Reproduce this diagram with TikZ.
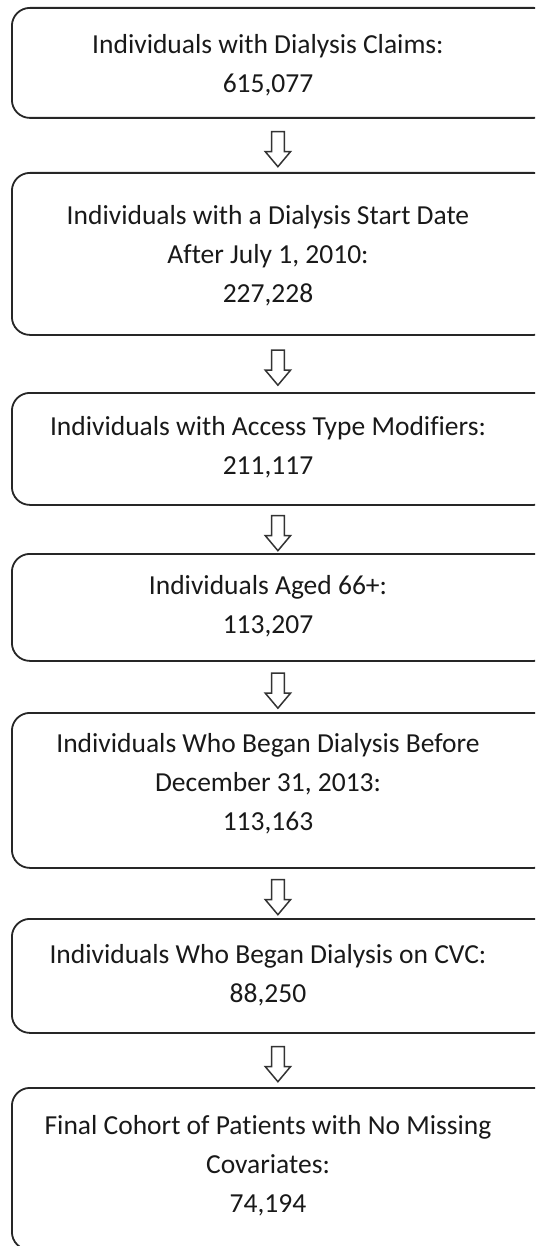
\documentclass[tikz,border=0pt]{standalone}
\usepackage{fontspec}
\setmainfont{Carlito}[Ligatures=NoCommon]
\usepackage{tikz}
\usetikzlibrary{calc,shapes.arrows,positioning}

\tikzset{
  stage/.style={draw=black!85, line width=1.8pt, rounded corners=18pt, anchor=north west, inner sep=0pt},
  txt/.style={align=center, text=black!90, font=\fontsize{27.5}{39}\selectfont, inner sep=0pt},
  hollowarrow/.style={single arrow, draw=black!80, fill=white, line width=1.5pt, rotate=-90,
    minimum height=35pt, inner sep=5.6pt,
    single arrow head extend=6.2pt, single arrow tip angle=80}
}

\begin{document}
\begin{tikzpicture}[x=1pt,y=-1pt]
\useasboundingbox (0,0) rectangle (535,1246);
\clip (0,0) rectangle (535,1246);
% boxes
\node[stage, minimum width=540, minimum height=110] (b1) at (11,7) {};
\node[stage, minimum width=540, minimum height=162] (b2) at (11,172) {};
\node[stage, minimum width=540, minimum height=112] (b3) at (11,392) {};
\node[stage, minimum width=540, minimum height=107] (b4) at (11,553) {};
\node[stage, minimum width=540, minimum height=155] (b5) at (11,712) {};
\node[stage, minimum width=540, minimum height=114] (b6) at (11,918) {};
\node[stage, minimum width=540, minimum height=162] (b7) at (11,1087) {};
% texts
\node[txt] (t1) at (268,65) {Individuals with Dialysis Claims:\\615,077};
\node[txt] (t2) at (268,256) {Individuals with a Dialysis Start Date\\After July 1, 2010:\\227,228};
\node[txt] (t3) at (268,447) {Individuals with Access Type Modifiers:\\211,117};
\node[txt] (t4) at (268,606) {Individuals Aged 66+:\\113,207};
\node[txt] (t5) at (268,784) {Individuals Who Began Dialysis Before\\December 31, 2013:\\113,163};
\node[txt] (t6) at (268,975) {Individuals Who Began Dialysis on CVC:\\88,250};
\node[txt] (t7) at (268,1166) {Final Cohort of Patients with No Missing\\Covariates:\\74,194};
% arrows
\node[hollowarrow] (a1) at ($(b1.south)!0.5!(b2.north)+(-4,0)$) {};
\node[hollowarrow] (a2) at ($(b2.south)!0.5!(b3.north)+(-4,0)$) {};
\node[hollowarrow] (a3) at ($(b3.south)!0.5!(b4.north)+(-4,0)$) {};
\node[hollowarrow] (a4) at ($(b4.south)!0.5!(b5.north)+(-4,0)$) {};
\node[hollowarrow] (a5) at ($(b5.south)!0.5!(b6.north)+(-4,0)$) {};
\node[hollowarrow] (a6) at ($(b6.south)!0.5!(b7.north)+(-4,0)$) {};
\end{tikzpicture}
\end{document}
